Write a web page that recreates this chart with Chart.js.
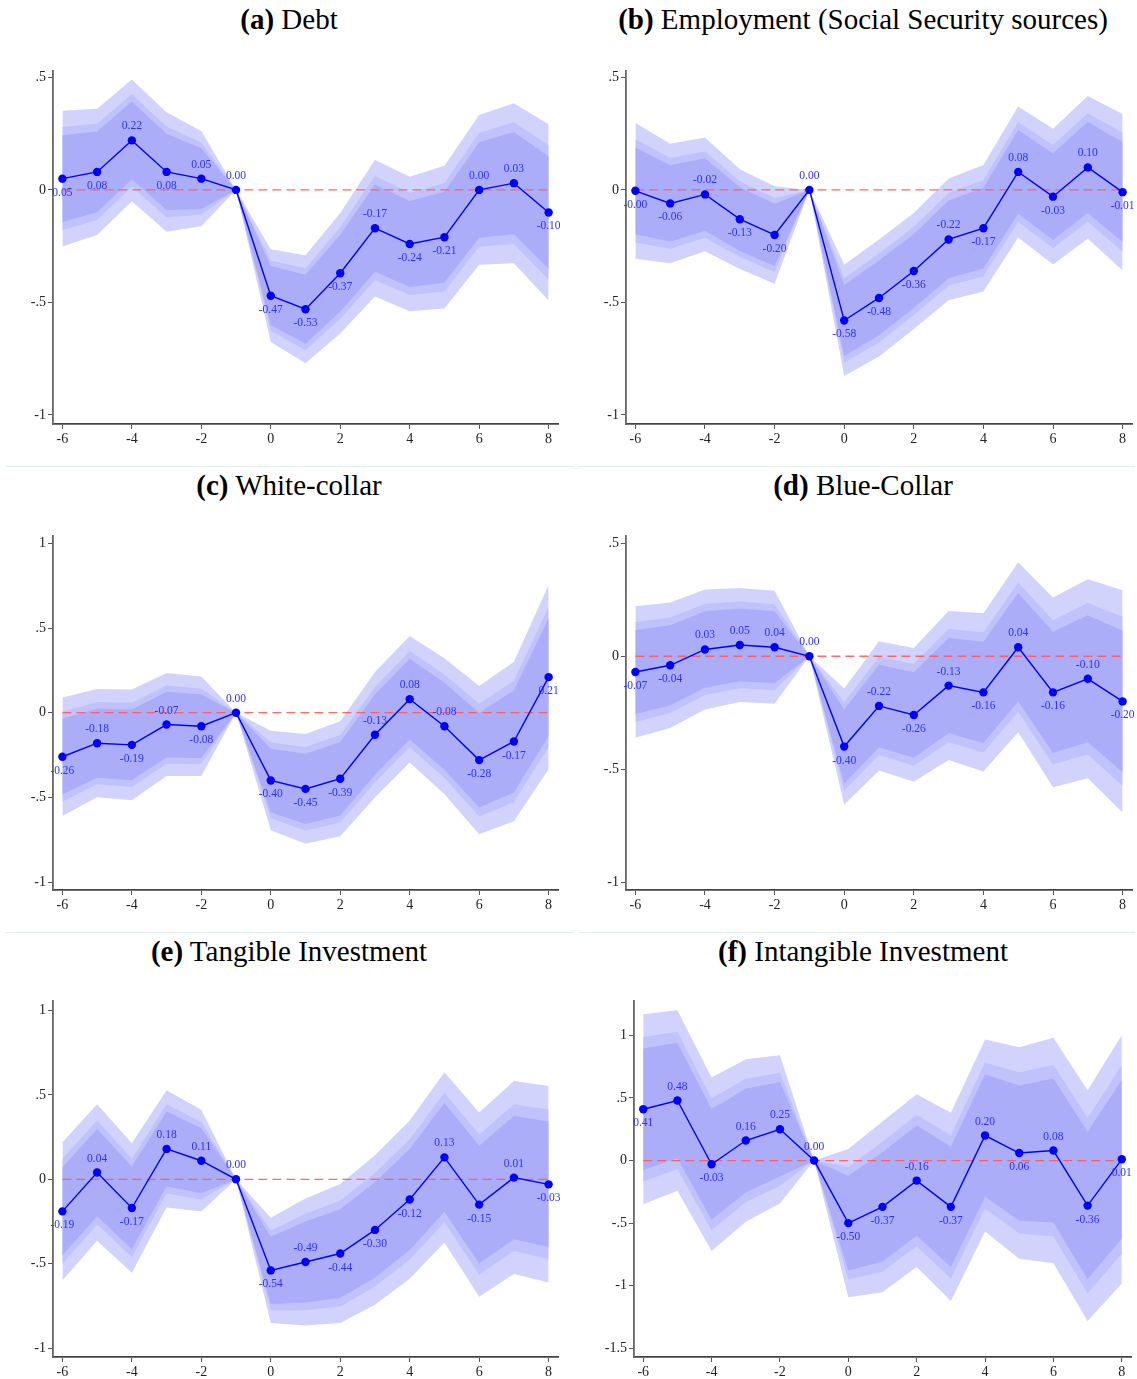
<!DOCTYPE html>
<html>
<head>
<meta charset="utf-8">
<script src="https://cdn.jsdelivr.net/npm/chart.js@4.4.1/dist/chart.umd.min.js"></script>
<style>
  body { margin: 0; background: #fff; width: 1137px; height: 1379px; position: relative; overflow: hidden; font-family: 'Liberation Serif', 'Times New Roman', serif; }
  .title { position: absolute; font-size: 29px; line-height: 36px; white-space: nowrap; transform: translateX(-50%); color: #000; }
  .sep { position: absolute; height: 1px; background: #e4eded; }
  canvas { position: absolute; }
</style>
</head>
<body>
<script>
// event time
const periods = [-6, -5, -4, -3, -2, -1, 0, 1, 2, 3, 4, 5, 6, 7, 8];
const xTicks = [-6, -4, -2, 0, 2, 4, 6, 8];

// tick values of the y axes
const yTicksHalf = [-1, -0.5, 0, 0.5];
const yTicksOne = [-1, -0.5, 0, 0.5, 1];
const yTicksWide = [-1.5, -1, -0.5, 0, 0.5, 1];

// coefficients and standard errors
const debtCoef = [0.05, 0.08, 0.22, 0.08, 0.05, 0.00, -0.47, -0.53, -0.37, -0.17, -0.24, -0.21, 0.00, 0.03, -0.10];
const debtSE   = [0.117, 0.109, 0.105, 0.103, 0.082, 0, 0.080, 0.093, 0.104, 0.118, 0.116, 0.123, 0.129, 0.138, 0.152];

const empCoef = [-0.004, -0.06, -0.02, -0.13, -0.20, 0.00, -0.58, -0.48, -0.36, -0.22, -0.17, 0.08, -0.03, 0.10, -0.01];
const empSE   = [0.117, 0.103, 0.098, 0.086, 0.084, 0, 0.096, 0.101, 0.100, 0.105, 0.109, 0.113, 0.117, 0.123, 0.135];

const whiteCoef = [-0.26, -0.18, -0.19, -0.07, -0.08, 0.00, -0.40, -0.45, -0.39, -0.13, 0.08, -0.08, -0.28, -0.17, 0.21];
const whiteSE   = [0.136, 0.124, 0.127, 0.118, 0.114, 0, 0.114, 0.126, 0.132, 0.144, 0.145, 0.156, 0.170, 0.183, 0.211];

const blueCoef = [-0.07, -0.04, 0.03, 0.05, 0.04, 0.00, -0.40, -0.22, -0.26, -0.13, -0.16, 0.04, -0.16, -0.10, -0.20];
const blueSE   = [0.113, 0.108, 0.103, 0.098, 0.097, 0, 0.100, 0.111, 0.115, 0.128, 0.136, 0.146, 0.163, 0.171, 0.191];

const tangCoef = [-0.19, 0.04, -0.17, 0.18, 0.11, 0.00, -0.54, -0.49, -0.44, -0.30, -0.12, 0.13, -0.15, 0.01, -0.03];
const tangSE   = [0.159, 0.157, 0.149, 0.135, 0.117, 0, 0.121, 0.146, 0.160, 0.172, 0.182, 0.196, 0.212, 0.222, 0.226];

const intangCoef = [0.41, 0.48, -0.03, 0.16, 0.25, 0.00, -0.50, -0.37, -0.16, -0.37, 0.20, 0.06, 0.08, -0.36, 0.01];
const intangSE   = [0.295, 0.280, 0.269, 0.252, 0.230, 0, 0.230, 0.265, 0.268, 0.292, 0.298, 0.328, 0.350, 0.358, 0.385];

// 99 / 95 / 90 % bands, outer to inner
const zLevels = [2.576, 1.96, 1.645];
const bandColors = ['rgb(210,211,252)', 'rgb(192,194,251)', 'rgb(171,173,249)'];

// stata style tick numbers: .5, -.5
function stataNum(v) {
  if (v === 0) return '0';
  return String(v).replace(/^(-?)0\./, '$1.');
}

// marker labels above (A) or below (B) each point
const pointLabels = {
  id: 'pointLabels',
  afterDatasetsDraw(chart, args, opts) {
    const meta = chart.getDatasetMeta(opts.index);
    const ds = chart.data.datasets[opts.index];
    const ctx = chart.ctx;
    ctx.save();
    ctx.font = '11.5px "Liberation Serif"';
    ctx.fillStyle = '#2f2fff';
    ctx.textAlign = 'center';
    ctx.textBaseline = 'middle';
    meta.data.forEach((pt, i) => {
      const dy = opts.sides[i] === 'A' ? -14 : 14;
      ctx.fillText(ds.data[i].y.toFixed(2), pt.x, pt.y + dy);
    });
    ctx.restore();
  }
};

const panels = [
  { tag: '(a)', name: 'Debt', coef: debtCoef, se: debtSE, yTicks: yTicksHalf, ymin: -1.04, ymax: 0.531,
    sides: 'BBABAABBBABBAAB', axisX: 53, top: 70, bottom: 424, right: 558, titleX: 289, titleY: 19 },
  { tag: '(b)', name: 'Employment (Social Security sources)', coef: empCoef, se: empSE, yTicks: yTicksHalf, ymin: -1.04, ymax: 0.531,
    sides: 'BBABBABBBABABAB', axisX: 626, top: 70, bottom: 424, right: 1132, titleX: 863, titleY: 19 },
  { tag: '(c)', name: 'White-collar', coef: whiteCoef, se: whiteSE, yTicks: yTicksOne, ymin: -1.047, ymax: 1.047,
    sides: 'BABABABBBAAABBB', axisX: 53, top: 535, bottom: 890, right: 558, titleX: 289, titleY: 485 },
  { tag: '(d)', name: 'Blue-Collar', coef: blueCoef, se: blueSE, yTicks: yTicksHalf, ymin: -1.035, ymax: 0.535,
    sides: 'BBAAAABABABABAB', axisX: 626, top: 535, bottom: 890, right: 1132, titleX: 863, titleY: 485 },
  { tag: '(e)', name: 'Tangible Investment', coef: tangCoef, se: tangSE, yTicks: yTicksOne, ymin: -1.053, ymax: 1.06,
    sides: 'BABAAABABBBABAB', axisX: 53, top: 1000, bottom: 1357, right: 558, titleX: 289, titleY: 951 },
  { tag: '(f)', name: 'Intangible Investment', coef: intangCoef, se: intangSE, yTicks: yTicksWide, ymin: -1.57, ymax: 1.28,
    sides: 'BABAAABBABABABB', axisX: 634, top: 1000, bottom: 1357, right: 1131, titleX: 863, titleY: 951 }
];

const tickFont = { family: 'Liberation Serif', size: 14 };

// faint separators between the rows
[466, 932].forEach(y => {
  [[6, 567], [579, 556]].forEach(([l, w]) => {
    const d = document.createElement('div');
    d.className = 'sep';
    d.style.left = l + 'px'; d.style.top = y + 'px'; d.style.width = w + 'px';
    document.body.appendChild(d);
  });
});

panels.forEach(p => {
  const t = document.createElement('div');
  t.className = 'title';
  t.innerHTML = '<b>' + p.tag + '</b> ' + p.name;
  t.style.left = p.titleX + 'px';
  t.style.top = (p.titleY - 18) + 'px';
  document.body.appendChild(t);

  const left = p.axisX - 53;
  const top = p.top - 10;
  const canvas = document.createElement('canvas');
  canvas.width = p.right + 12 - left;
  canvas.height = p.bottom + 36 - top;
  canvas.style.left = left + 'px';
  canvas.style.top = top + 'px';
  document.body.appendChild(canvas);

  const datasets = [];
  datasets.push({
    data: periods.map((x, i) => ({ x, y: p.coef[i] })),
    borderColor: '#0000ff', borderWidth: 1.4, pointRadius: 4.2,
    pointBackgroundColor: '#0000ff', pointBorderWidth: 0, fill: false, order: 0
  });
  datasets.push({
    data: periods.map(x => ({ x, y: 0 })),
    borderColor: 'rgba(255,90,90,0.9)', borderWidth: 1.3, borderDash: [9, 5],
    pointRadius: 0, fill: false, order: 1
  });
  zLevels.forEach((z, k) => {
    datasets.push({
      data: periods.map((x, i) => ({ x, y: p.coef[i] + z * p.se[i] })),
      borderWidth: 0, pointRadius: 0, fill: '+1', backgroundColor: bandColors[k], order: 6 - k
    });
    datasets.push({
      data: periods.map((x, i) => ({ x, y: p.coef[i] - z * p.se[i] })),
      borderWidth: 0, pointRadius: 0, fill: false, order: 6 - k
    });
  });

  new Chart(canvas.getContext('2d'), {
    type: 'line',
    data: { datasets },
    plugins: [pointLabels],
    options: {
      responsive: false,
      animation: false,
      layout: { padding: { top: 10, right: 12, left: 0, bottom: 0 } },
      plugins: {
        legend: { display: false },
        tooltip: { enabled: false },
        pointLabels: { index: 0, sides: p.sides }
      },
      scales: {
        x: {
          type: 'linear', min: -6.27, max: 8.27,
          afterBuildTicks: s => { s.ticks = xTicks.map(v => ({ value: v })); },
          afterFit: s => { s.height = 36; },
          ticks: { font: tickFont, color: '#222', padding: 2, maxRotation: 0, autoSkip: false, callback: v => String(v) },
          grid: { drawOnChartArea: false, drawTicks: true, tickLength: 5, color: '#555' },
          border: { color: '#444', width: 1.8 }
        },
        y: {
          type: 'linear', min: p.ymin, max: p.ymax,
          afterBuildTicks: s => { s.ticks = p.yTicks.map(v => ({ value: v })); },
          afterFit: s => { s.width = 53; },
          ticks: { font: tickFont, color: '#222', padding: 2, autoSkip: false, callback: v => stataNum(v) },
          grid: { drawOnChartArea: false, drawTicks: true, tickLength: 5, color: '#555' },
          border: { color: '#666', width: 1.8 }
        }
      }
    }
  });
});
</script>
</body>
</html>
